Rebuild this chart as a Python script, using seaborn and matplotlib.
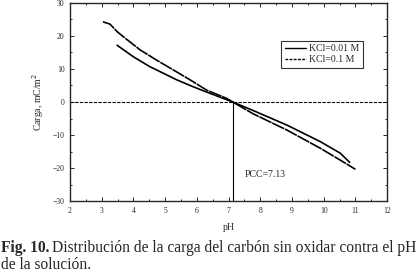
import numpy as np
import pandas as pd
import matplotlib
matplotlib.use("Agg")
import matplotlib.pyplot as plt
from matplotlib.ticker import MultipleLocator
import seaborn as sns

# valores (pH vs carga superficial, mC/m2)
ph_001 = [3.47, 4.0, 4.52, 4.84, 5.37, 5.89, 6.42, 7.13, 7.78, 8.84, 9.89, 10.52, 10.83]
carga_001 = [17.3, 13.7, 10.7, 9.2, 6.7, 4.6, 2.6, 0.0, -2.6, -7.0, -12.0, -15.5, -18.4]
ph_01 = [3.04, 3.26, 3.5, 3.68, 4.21, 4.73, 5.26, 5.79, 6.31, 6.94, 7.13, 7.78, 8.84, 9.89, 10.52, 11.0]
carga_01 = [24.3, 23.6, 21.2, 19.8, 15.8, 12.7, 9.7, 6.7, 3.6, 1.1, 0.0, -3.6, -8.5, -14.0, -17.6, -20.4]
pcc = 7.13

df = pd.concat([
    pd.DataFrame({"pH": ph_001, "carga": carga_001, "serie": "KCl=0.01 M"}),
    pd.DataFrame({"pH": ph_01, "carga": carga_01, "serie": "KCl=0.1 M"}),
])

sns.set_style("ticks")
plt.rcParams["font.family"] = ["Liberation Serif", "DejaVu Serif"]

fig = plt.figure(figsize=(4.19, 2.72), dpi=100)
ax = fig.add_axes([0.167, 0.261, 0.757, 0.728])

sns.lineplot(data=df, x="pH", y="carga", hue="serie", style="serie",
             palette=["black", "black"], dashes=[(1, 0), (8, 0.5)],
             linewidth=1.2, sort=False, ax=ax, legend=False)

ax.axhline(0, color="black", lw=0.8, linestyle=(0, (3, 1.2)))
ax.plot([pcc, pcc], [-30, 0], color="black", lw=0.8)
ax.text(7.52, -22, "PCC=7.13", fontsize=7, va="center")

ax.set_xlim(2, 12)
ax.set_ylim(-30, 30)
ax.xaxis.set_major_locator(MultipleLocator(1))
ax.xaxis.set_minor_locator(MultipleLocator(0.5))
ax.yaxis.set_major_locator(MultipleLocator(10))
ax.yaxis.set_minor_locator(MultipleLocator(5))
ax.tick_params(which="both", direction="in", top=True, right=True, labelsize=5.5, width=0.7)
ax.tick_params(which="major", length=3, pad=4)
ax.tick_params(which="minor", length=1.5)
for s in ax.spines.values():
    s.set_linewidth(1.0)

ax.set_xlabel("pH", fontsize=7, labelpad=6)
ax.set_ylabel("Carga, mC/m$^2$", fontsize=7, labelpad=5)

# leyenda con muestras de linea propias (solida y a trazos)
h1 = plt.Line2D([], [], color="black", lw=1.0)
h2 = plt.Line2D([], [], color="black", lw=1.0, linestyle=(0, (2, 1)))
leg = ax.legend([h1, h2], ["KCl=0.01 M", "KCl=0.1 M"], loc="upper left",
                bbox_to_anchor=(0.65, 0.835), fontsize=7, frameon=True,
                fancybox=False, handlelength=2.2, borderpad=0.4,
                labelspacing=0.2, handletextpad=0.3)
leg.get_frame().set_edgecolor("black")
leg.get_frame().set_linewidth(0.8)

# pie de figura
fig.canvas.draw()
r = fig.canvas.get_renderer()
t1 = fig.text(0.002, 0.075, "Fig. 10.", fontsize=11.2, fontweight="bold", va="baseline")
bb = t1.get_window_extent(r)
x2 = (bb.x1 + 3) / fig.bbox.width
fig.text(x2, 0.075, "Distribución de la carga del carbón sin oxidar contra el pH",
         fontsize=11.2, va="baseline")
fig.text(0.002, 0.012, "de la solución.", fontsize=11.2, va="baseline")

fig.savefig("out.png", dpi=100)
